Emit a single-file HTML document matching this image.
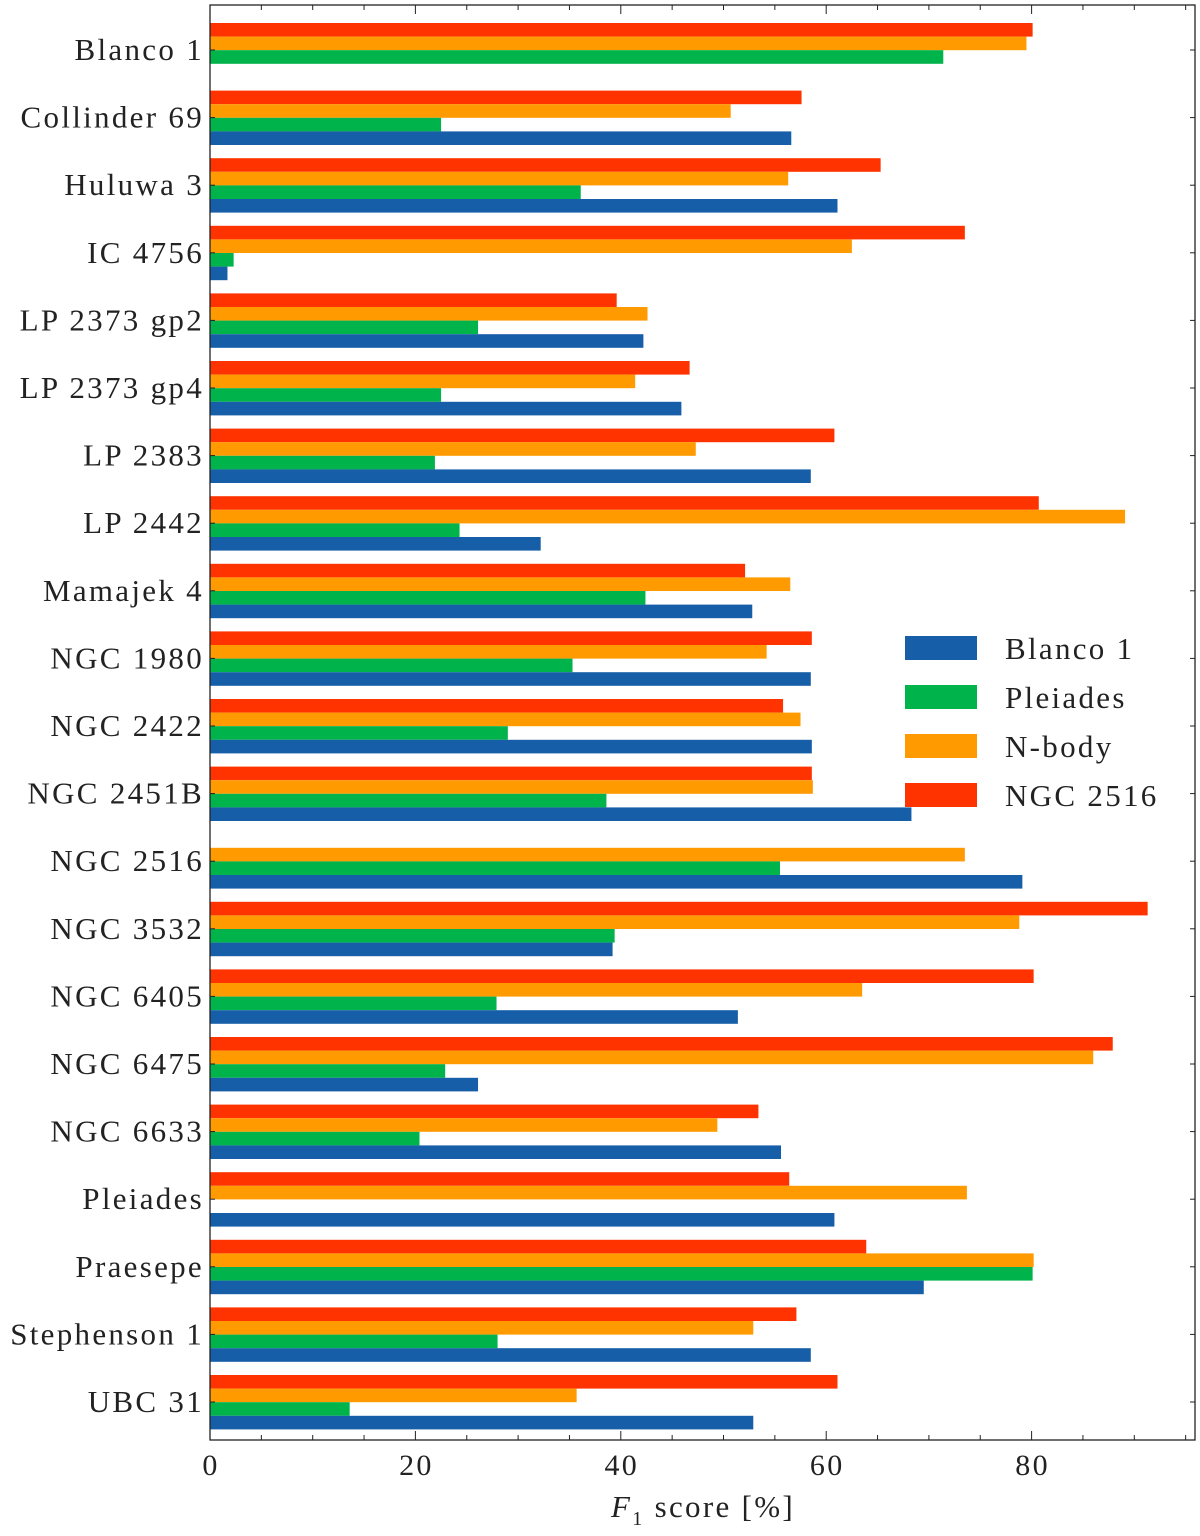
<!DOCTYPE html>
<html><head><meta charset="utf-8"><style>
body{margin:0;background:#fff;}
svg text{font-family:"Liberation Serif",serif;fill:#222;}
.lab{letter-spacing:2.3px;}
</style></head><body>
<svg id="chart" width="1200" height="1531"></svg>
<script>
const categories=["Blanco 1","Collinder 69","Huluwa 3","IC 4756","LP 2373 gp2","LP 2373 gp4","LP 2383","LP 2442","Mamajek 4","NGC 1980","NGC 2422","NGC 2451B","NGC 2516","NGC 3532","NGC 6405","NGC 6475","NGC 6633","Pleiades","Praesepe","Stephenson 1","UBC 31"];
const ngc2516=[80.1,57.6,65.3,73.5,39.6,46.7,60.8,80.7,52.1,58.6,55.8,58.6,null,91.3,80.2,87.9,53.4,56.4,63.9,57.1,61.1];
const nbody=[79.5,50.7,56.3,62.5,42.6,41.4,47.3,89.1,56.5,54.2,57.5,58.7,73.5,78.8,63.5,86.0,49.4,73.7,80.2,52.9,35.7];
const pleiades=[71.4,22.5,36.1,2.3,26.1,22.5,21.9,24.3,42.4,35.3,29.0,38.6,55.5,39.4,27.9,22.9,20.4,null,80.1,28.0,13.6];
const blanco1=[null,56.6,61.1,1.7,42.2,45.9,58.5,32.2,52.8,58.5,58.6,68.3,79.1,39.2,51.4,26.1,55.6,60.8,69.5,58.5,52.9];
const xTicks=[0,20,40,60,80];
const seriesNames=["Blanco 1","Pleiades","N-body","NGC 2516"];

const NS="http://www.w3.org/2000/svg";
const svg=document.getElementById('chart');
const L=210,R=1195,T=5,B=1440;
const x=v=>L+v*10.27;
const yc=i=>50+i*67.6;
const bh=13.6;
function el(tag,attrs,parent){const e=document.createElementNS(NS,tag);for(const k in attrs)e.setAttribute(k,attrs[k]);(parent||svg).appendChild(e);return e;}
const series=[{d:ngc2516,c:"#ff3300",n:"ngc-2516"},{d:nbody,c:"#ff9a00",n:"n-body"},{d:pleiades,c:"#00b34a",n:"pleiades"},{d:blanco1,c:"#175ea8",n:"blanco-1"}];
categories.forEach((cat,i)=>{
  series.forEach((s,j)=>{
    const v=s.d[i]; if(v==null)return;
    const r=el('rect',{x:x(0),y:yc(i)-27+j*bh,width:x(v)-x(0),height:bh,fill:s.c});
    
    
  });
  const t=el('text',{x:204,y:yc(i)+10,'text-anchor':'end','font-size':31,'class':'lab'});
  t.textContent=cat;
  
  
  el('line',{x1:L,x2:L+5,y1:yc(i),y2:yc(i),stroke:'#222','stroke-width':1});
  el('line',{x1:R,x2:R-5,y1:yc(i),y2:yc(i),stroke:'#222','stroke-width':1});
});
const frame=el('rect',{x:L,y:T,width:R-L,height:B-T,fill:'none',stroke:'#222','stroke-width':1.3});


for(let v=0;v<=95;v+=5){
  const major=v%20===0, len=major?9:5;
  el('line',{x1:x(v),x2:x(v),y1:B,y2:B-len,stroke:'#222','stroke-width':1});
  el('line',{x1:x(v),x2:x(v),y1:T,y2:T+len,stroke:'#222','stroke-width':1});
}
xTicks.forEach(v=>{
  const t=el('text',{x:x(v)+1,y:1475,'text-anchor':'middle','font-size':30,'class':'lab'});
  t.textContent=v;
  
  
});
const xt=el('text',{x:703,y:1517,'text-anchor':'middle','font-size':31,'class':'lab'});
xt.innerHTML='<tspan font-style="italic">F</tspan><tspan font-size="20" dy="8">1</tspan><tspan dy="-8"> score [%]</tspan>';


const legCols=["#175ea8","#00b34a","#ff9a00","#ff3300"];
seriesNames.forEach((n,k)=>{
  const y0=648+k*49;
  const r=el('rect',{x:905,y:y0-12,width:72,height:24,fill:legCols[k]});
  
  
  const t=el('text',{x:1005,y:y0+11,'font-size':31,'class':'lab'});
  t.textContent=n;
  
  
});
</script>
</body></html>
